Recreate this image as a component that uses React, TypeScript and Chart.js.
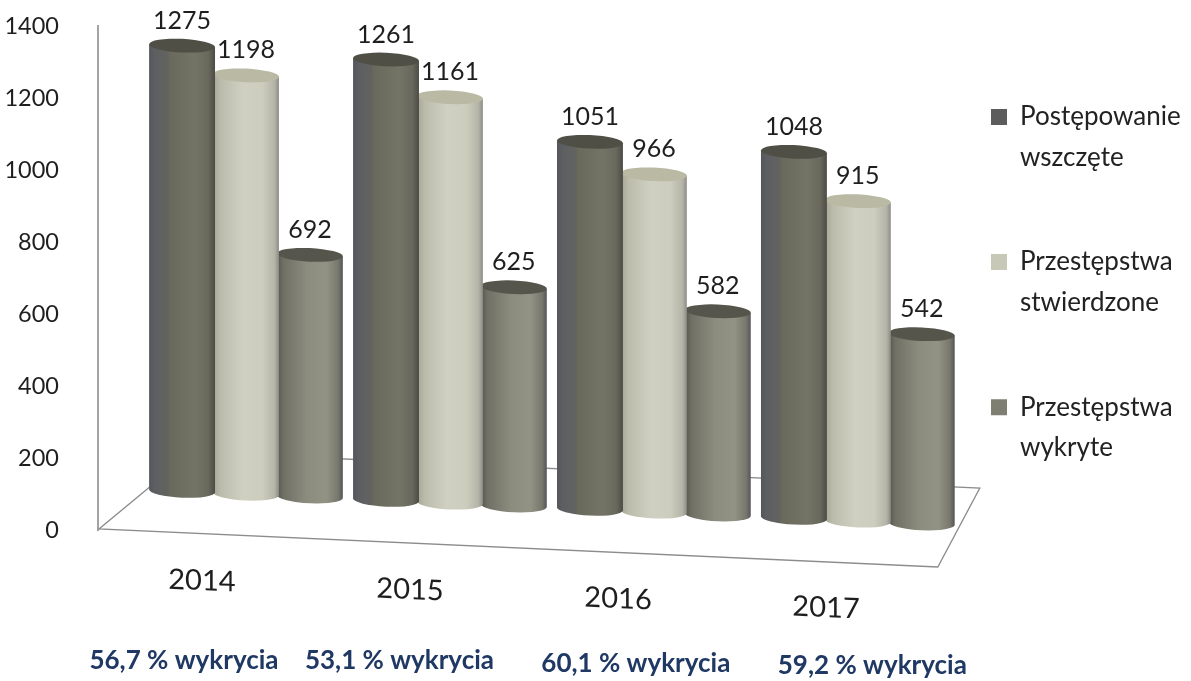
import React, { useEffect, useRef } from "react";
import { Chart, registerables } from "chart.js";

Chart.register(...registerables);

const years = ["2014", "2015", "2016", "2017"];
const wszczete = [1275, 1261, 1051, 1048];
const stwierdzone = [1198, 1161, 966, 915];
const wykryte = [692, 625, 582, 542];
const seriesLabels = [
  ["Postępowanie", "wszczęte"],
  ["Przestępstwa", "stwierdzone"],
  ["Przestępstwa", "wykryte"],
];
const detection = ["56,7 % wykrycia", "53,1 % wykrycia", "60,1 % wykrycia", "59,2 % wykrycia"];
const yTickStep = 200;
const yMax = 1400;

const FONT = "Lato, Carlito, sans-serif";
const SHEAR = 0.044;
const VSCALE = 0.97;
const DX = 46;
const DY = -29.2;
const RY = 7;
const detectionDx = [-16, -4.5, 28, 60.5];
const detectionY = [661, 661, 664, 666];

const swatches = ["#5c5c5c", "#c8c8b8", "#7e7e72"];
const shades = [
  [[0, "#55565a"], [0.08, "#5d5e62"], [0.28, "#62635f"], [0.32, "#6a6a5c"], [0.7, "#737366"], [0.9, "#68685c"], [1, "#4c4c46"]],
  [[0, "#a5a598"], [0.12, "#bcbcac"], [0.45, "#d0d0c2"], [0.75, "#cdcdbe"], [0.93, "#b5b5a8"], [1, "#8d8d88"]],
  [[0, "#55554e"], [0.1, "#707065"], [0.45, "#8b8b7e"], [0.75, "#929285"], [0.93, "#77776c"], [1, "#55555a"]],
];
const caps = ["#4f4f46", "#b9b9a4", "#55554c"];

const sheared = {
  id: "sheared",
  beforeLayout(chart: any) {
    if (chart.legend) chart.legend.afterFit = function () { this.width = 264; };
  },
  afterLayout(chart: any) {
    const l = chart.legend;
    if (!l) return;
    l.left = 926.5; l.right = 1191; l.top = 39.5; l.bottom = 681;
  },
  beforeDatasetsDraw(chart: any) {
    const { ctx, chartArea: a } = chart;
    const w = a.right - a.left;
    const fl = { x: a.left + 1, y: a.bottom - 1 };
    const bl = { x: a.left + 94, y: a.bottom - 78 };
    const br = { x: a.left + w + 66, y: a.bottom - 42 };
    const fr = { x: a.left + w + 24, y: a.bottom + 37 };
    ctx.save();
    ctx.strokeStyle = "#8c8c8c";
    ctx.lineWidth = 1.3;
    ctx.beginPath();
    ctx.moveTo(bl.x, bl.y); ctx.lineTo(fl.x, fl.y); ctx.lineTo(fr.x, fr.y);
    ctx.lineTo(br.x, br.y); ctx.lineTo(bl.x, bl.y);
    ctx.stroke();
    ctx.restore();
  },
  beforeDatasetDraw(chart: any, args: any) {
    const { ctx } = chart;
    const i = args.index;
    ctx.save();
    ctx.transform(1, SHEAR, 0, VSCALE, DX, DY);
    for (const bar of args.meta.data) {
      const r = bar.width / 2 + 1;
      const g = ctx.createLinearGradient(bar.x - r, 0, bar.x + r, 0);
      for (const [p, c] of shades[i] as any) g.addColorStop(p, c);
      ctx.fillStyle = g;
      ctx.beginPath();
      ctx.moveTo(bar.x - r, bar.y);
      ctx.lineTo(bar.x - r, bar.base);
      ctx.ellipse(bar.x, bar.base, r, RY, 0, Math.PI, 0, true);
      ctx.lineTo(bar.x + r, bar.y);
      ctx.closePath();
      ctx.fill();
      ctx.fillStyle = caps[i];
      ctx.beginPath();
      ctx.ellipse(bar.x, bar.y, r, RY, 0, 0, Math.PI * 2);
      ctx.fill();
    }
    ctx.restore();
    return false;
  },
  afterDatasetsDraw(chart: any) {
    const { ctx } = chart;
    ctx.save();
    ctx.font = `25px ${FONT}`;
    ctx.fillStyle = "#1e1e1e";
    ctx.textAlign = "center";
    ctx.textBaseline = "middle";
    chart.data.datasets.forEach((ds: any, i: number) => {
      chart.getDatasetMeta(i).data.forEach((bar: any, j: number) => {
        const sx = bar.x + DX;
        const sy = bar.y * VSCALE + SHEAR * bar.x + DY;
        ctx.fillText(String(ds.data[j]), sx, sy - RY - 18);
      });
    });
    ctx.restore();
    // year labels (x axis tick layer, z > 0) are drawn through the floor's slant
    ctx.save();
    ctx.transform(1.02, 0.044, 0, 1, -2, -19);
  },
  afterDraw(chart: any) {
    const { ctx } = chart;
    ctx.restore();
    ctx.save();
    ctx.font = `bold 26px ${FONT}`;
    ctx.fillStyle = "#1f3864";
    ctx.textAlign = "center";
    ctx.textBaseline = "middle";
    const x = chart.scales.x;
    detection.forEach((t, i) => {
      ctx.fillText(t, x.getPixelForValue(i) + detectionDx[i], detectionY[i]);
    });
    ctx.restore();
  },
};

const noPad = (s: any) => {
  s.paddingTop = 0; s.paddingBottom = 0; s.paddingLeft = 0; s.paddingRight = 0;
};

export default function App() {
  const ref = useRef<HTMLCanvasElement>(null);
  useEffect(() => {
    const colors = swatches;
    const chart = new Chart(ref.current!, {
      type: "bar",
      data: {
        labels: years,
        datasets: [wszczete, stwierdzone, wykryte].map((data, i) => ({
          label: seriesLabels[i].join(" "),
          data,
          backgroundColor: colors[i],
          categoryPercentage: 0.94,
          barPercentage: 1,
        })),
      },
      options: {
        responsive: false,
        animation: false,
        layout: { padding: { left: 0, top: 26, right: 13, bottom: 0 } },
        scales: {
          x: {
            grid: { display: false },
            border: { display: false },
            ticks: { z: 1, color: "#1e1e1e", font: { family: FONT, size: 28.5 }, padding: 36, maxRotation: 0 },
            afterFit: (s: any) => { s.height = 151; noPad(s); },
          },
          y: {
            min: 0,
            max: yMax,
            grid: { display: false },
            border: { display: true, color: "#a3a3a3", width: 2 },
            ticks: {
              stepSize: yTickStep,
              color: "#1e1e1e",
              font: { family: FONT, size: 23.5 },
              padding: 31,
              callback: (v: any) => String(v),
            },
            afterFit: (s: any) => { s.width = 98; noPad(s); },
          },
        },
        plugins: {
          tooltip: { enabled: false },
          legend: {
            position: "right",
            align: "start",
            labels: {
              boxWidth: 16,
              boxHeight: 16,
              padding: 64.5,
              color: "#222222",
              font: { family: FONT, size: 26, lineHeight: 1.55 },
              generateLabels: () =>
                seriesLabels.map((text, i) => ({
                  text,
                  fillStyle: colors[i],
                  strokeStyle: colors[i],
                  lineWidth: 0,
                  fontColor: "#222222",
                  datasetIndex: i,
                })),
            },
          },
        },
      },
      plugins: [sheared],
    } as any);
    return () => chart.destroy();
  }, []);
  return (
    <canvas
      ref={ref}
      width={1191}
      height={681}
      style={{ position: "absolute", left: 0, top: 0, width: 1191, height: 681, display: "block", background: "#ffffff" }}
    />
  );
}
